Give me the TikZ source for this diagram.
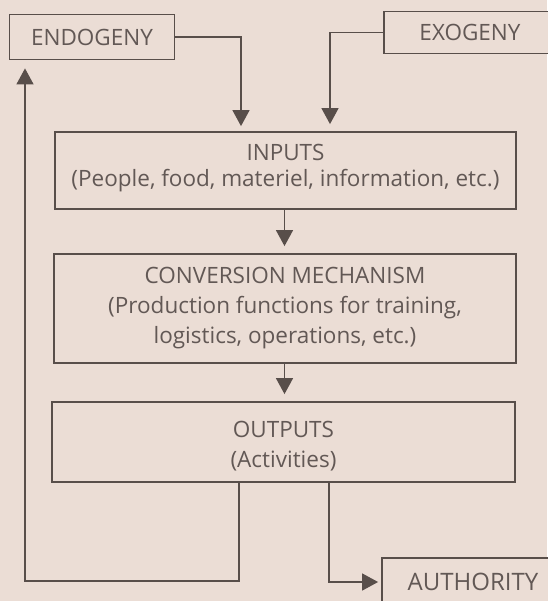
\documentclass[tikz,border=0pt]{standalone}
\usepackage{fontspec}
\setmainfont{Open Sans}
\usetikzlibrary{arrows.meta,calc}
\definecolor{bgc}{RGB}{235,221,213}
\definecolor{linec}{RGB}{88,78,74}
\definecolor{txtc}{RGB}{98,88,85}
\begin{document}
\begin{tikzpicture}[x=1pt,y=-1pt,
  box/.style={draw=linec, line width=1.8pt, fill=bgc, inner sep=0pt, align=center,
    text=txtc, font=\fontsize{22.5}{30}\selectfont},
  arr/.style={draw=linec, line width=1.4pt, -{Triangle[length=16pt,width=17pt]}}]
\fill[bgc] (0,0) rectangle (547,601);
\useasboundingbox (0,0) rectangle (547,601);

\node[box, minimum width=165pt, minimum height=45pt, text depth=0pt] (endo) at (92,37) {ENDOGENY};
\node[box, minimum width=172pt, minimum height=42pt, text depth=0pt] (exo) at (470,32.5) {EXOGENY};
\node[box, minimum width=461pt, minimum height=77pt, font=\fontsize{22.5}{26}\selectfont] (inputs) at (285.5,170.5)
  {INPUTS\\(People, food, materiel, information, etc.)\rule[-10pt]{0pt}{10pt}};
\node[box, minimum width=462pt, minimum height=109pt] (conv) at (285,308.5)
  {CONVERSION MECHANISM\\(Production functions for training,\\logistics, operations, etc.)};
\node[box, minimum width=463pt, minimum height=80pt] (outputs) at (283.5,442)
  {\rule{0pt}{24pt}OUTPUTS\\(Activities)};
\node[box, minimum width=182pt, minimum height=48pt, text depth=0pt,
  font=\fontsize{24}{30}\selectfont] (auth) at (473,582) {AUTHORITY};

\coordinate (ex) at (241,0);
\coordinate (xx) at (330,0);
\coordinate (mx) at (284.5,0);
\coordinate (fb) at (239,0);
\coordinate (ax) at (329,0);
\coordinate (bl) at (25,581);

\draw[arr, shorten >=5pt] (endo.east) -| (inputs.north -| ex);
\draw[arr, shorten >=7pt] (exo.west) -| (inputs.north -| xx);
\draw[arr, shorten >=7pt] (inputs.south -| mx) -- (conv.north -| mx);
\draw[arr, shorten >=7pt] (conv.south -| mx) -- (outputs.north -| mx);
\draw[arr, shorten >=8pt] (outputs.south -| fb) |- (bl) -- (endo.south -| bl);
\draw[arr, shorten >=3pt] (outputs.south -| ax) |- (auth.west);
\end{tikzpicture}
\end{document}
